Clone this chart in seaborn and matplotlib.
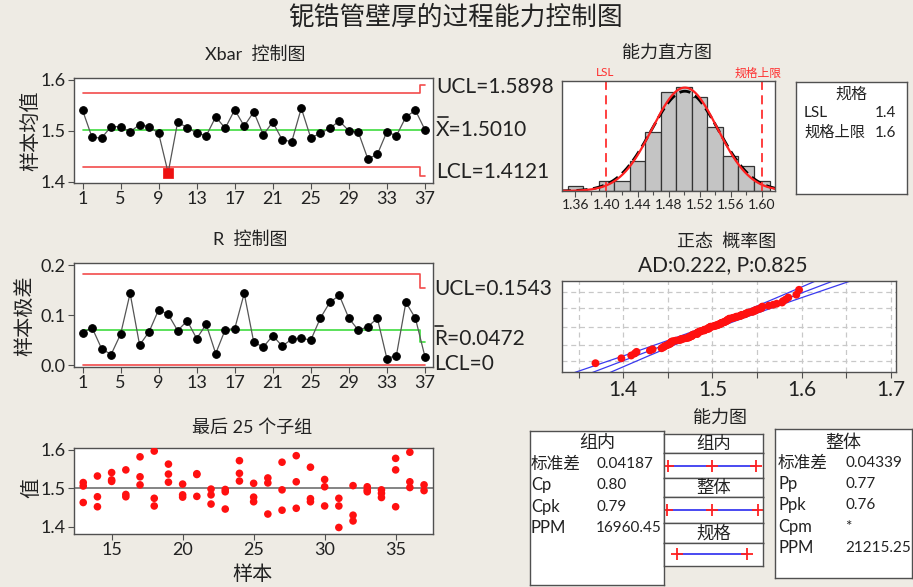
import numpy as np
import pandas as pd
import matplotlib
matplotlib.use("Agg")
import matplotlib.pyplot as plt
from matplotlib.lines import Line2D
from matplotlib.ticker import MultipleLocator
import seaborn as sns
from statistics import NormalDist

# ---------------- data ----------------
subgroups = list(range(1, 38))
xbar_means = [1.540, 1.487, 1.486, 1.508, 1.508, 1.498, 1.512, 1.508, 1.495, 1.418,
              1.517, 1.506, 1.496, 1.490, 1.527, 1.505, 1.541, 1.509, 1.537, 1.492,
              1.517, 1.482, 1.479, 1.544, 1.486, 1.495, 1.505, 1.519, 1.500, 1.497,
              1.445, 1.454, 1.498, 1.490, 1.527, 1.540, 1.502]
ranges = [0.065, 0.075, 0.033, 0.021, 0.062, 0.144, 0.040, 0.067, 0.111, 0.102,
          0.069, 0.089, 0.053, 0.082, 0.023, 0.071, 0.073, 0.144, 0.046, 0.036,
          0.059, 0.038, 0.052, 0.054, 0.050, 0.094, 0.126, 0.140, 0.094, 0.070,
          0.077, 0.094, 0.013, 0.019, 0.126, 0.094, 0.017]
xbar_center = 1.5010
xbar_ucl = [1.5735] * 36 + [1.5898]
xbar_lcl = [1.4285] * 36 + [1.4121]
r_center = [0.0709] * 36 + [0.0472]
r_ucl = [0.1825] * 36 + [0.1543]
r_lcl = [0.0] * 37

# individual measurements per subgroup
measurements = {
    1: [1.579, 1.527, 1.514], 2: [1.525, 1.486, 1.450], 3: [1.501, 1.489, 1.468],
    4: [1.519, 1.507, 1.498], 5: [1.545, 1.496, 1.483], 6: [1.553, 1.532, 1.409],
    7: [1.533, 1.510, 1.493], 8: [1.550, 1.491, 1.483], 9: [1.556, 1.484, 1.445],
    10: [1.471, 1.413, 1.369], 11: [1.555, 1.510, 1.486], 12: [1.545, 1.517, 1.456],
    13: [1.515, 1.506, 1.463], 14: [1.532, 1.478, 1.452], 15: [1.541, 1.522, 1.518],
    16: [1.548, 1.484, 1.478], 17: [1.582, 1.530, 1.509], 18: [1.597, 1.474, 1.454],
    19: [1.563, 1.537, 1.516], 20: [1.511, 1.483, 1.477], 21: [1.538, 1.536, 1.479],
    22: [1.498, 1.483, 1.459], 23: [1.497, 1.491, 1.446], 24: [1.572, 1.539, 1.519],
    25: [1.513, 1.477, 1.465], 26: [1.527, 1.514, 1.433], 27: [1.568, 1.496, 1.443],
    28: [1.585, 1.517, 1.448], 29: [1.555, 1.473, 1.465], 30: [1.523, 1.504, 1.454],
    31: [1.474, 1.454, 1.398], 32: [1.507, 1.430, 1.415], 33: [1.504, 1.496, 1.491],
    34: [1.496, 1.487, 1.476], 35: [1.578, 1.548, 1.452], 36: [1.594, 1.517, 1.502],
    37: [1.509, 1.494],
}

# capability histogram (bin centres and counts)
hist_centers = [1.36, 1.38, 1.40, 1.42, 1.44, 1.46, 1.48, 1.50, 1.52, 1.54, 1.56, 1.58, 1.60]
hist_counts = [1, 0, 2, 2, 6, 12, 20, 21, 19, 13, 7, 5, 2]
bin_width = 0.02

lsl, usl = 1.4, 1.6
process_mean = 1.5010
sigma_within = 0.04187
sigma_overall = 0.04339
cp, cpk, ppm_within = 0.80, 0.79, 16960.45
pp, ppk, ppm_overall = 0.77, 0.76, 21215.25
ad_stat, p_value = 0.222, 0.825

# ---------------- style ----------------
BG = "#EEEBE4"
RED = "#F24B4B"
GREEN = "#3EDC3E"
BLUE = "#3A3AF0"
FRAME = "#505050"

sns.set_theme(style="white")
plt.rcParams["font.family"] = ["Lato", "Noto Sans CJK SC", "DejaVu Sans"]
plt.rcParams["axes.edgecolor"] = FRAME
plt.rcParams["axes.linewidth"] = 1.0

W, H = 913, 587
fig = plt.figure(figsize=(W / 100, H / 100), dpi=100)
fig.patch.set_facecolor(BG)


def box(x0, y0, x1, y1):
    a = fig.add_axes([x0 / W, 1 - y1 / H, (x1 - x0) / W, (y1 - y0) / H])
    a.set_facecolor("white")
    for s in a.spines.values():
        s.set_color(FRAME)
        s.set_linewidth(1.0)
    return a


def ftext(x, y, s, **kw):
    kw.setdefault("va", "center")
    kw.setdefault("color", "#222222")
    fig.text(x / W, 1 - y / H, s, **kw)


def overline(x0, x1, y):
    fig.add_artist(Line2D([x0 / W, x1 / W], [1 - y / H, 1 - y / H],
                          color="#222222", lw=1.2, transform=fig.transFigure))


def ticks(a, size=13):
    a.tick_params(axis="both", which="both", bottom=True, left=True, direction="out",
                  length=4, width=0.8, color=FRAME, labelsize=size, pad=2,
                  labelcolor="#222222")
    a.set_xlabel("")
    a.set_ylabel("")


ftext(456, 17, "铌锆管壁厚的过程能力控制图", fontsize=18.5, ha="center")

# ---------------- Xbar chart ----------------
ax = box(74, 78, 433, 183)
df_x = pd.DataFrame({"sample": subgroups, "mean": xbar_means,
                     "ucl": xbar_ucl, "lcl": xbar_lcl})
sns.lineplot(data=df_x, x="sample", y="ucl", ax=ax, color=RED, lw=1.2, drawstyle="steps-mid")
sns.lineplot(data=df_x, x="sample", y="lcl", ax=ax, color=RED, lw=1.2, drawstyle="steps-mid")
ax.axhline(xbar_center, xmin=(1 - 0.1) / 37.75, xmax=1 - 0.85 / 37.75, color=GREEN, lw=1.2)
sns.lineplot(data=df_x, x="sample", y="mean", ax=ax, color="#555555", lw=0.9,
             marker="o", markersize=5.5, markerfacecolor="black", markeredgecolor="black")
out = df_x[(df_x["mean"] > df_x["ucl"]) | (df_x["mean"] < df_x["lcl"])]
sns.scatterplot(data=out, x="sample", y="mean", ax=ax, marker="s", color="#EE1111",
                s=42, edgecolor="#EE1111", zorder=5)
ax.set_xlim(0.1, 37.85)
ax.set_ylim(1.398, 1.603)
ax.set_xticks(list(range(1, 38, 4)))
ax.set_yticks([1.4, 1.5, 1.6])
ax.set_yticklabels(["1.4", "1.5", "1.6"])
ticks(ax)
ftext(255, 55, "Xbar  控制图", fontsize=13, ha="center")
ftext(30, 131, "样本均值", fontsize=14.5, ha="center", rotation=90)
ftext(436, 87, f"UCL={xbar_ucl[-1]:.4f}", fontsize=15, ha="left")
ftext(436, 130, f"X={xbar_center:.4f}", fontsize=15, ha="left")
overline(438, 448, 117)
ftext(436, 172, f"LCL={xbar_lcl[-1]:.4f}", fontsize=15, ha="left")

# ---------------- R chart ----------------
ax = box(74, 263, 433, 367)
df_r = pd.DataFrame({"sample": subgroups, "range": ranges,
                     "ucl": r_ucl, "center": r_center, "lcl": r_lcl})
sns.lineplot(data=df_r, x="sample", y="ucl", ax=ax, color=RED, lw=1.2, drawstyle="steps-mid")
sns.lineplot(data=df_r, x="sample", y="center", ax=ax, color=GREEN, lw=1.2, drawstyle="steps-mid")
sns.lineplot(data=df_r, x="sample", y="lcl", ax=ax, color=RED, lw=1.2, drawstyle="steps-mid")
sns.lineplot(data=df_r, x="sample", y="range", ax=ax, color="#555555", lw=0.9,
             marker="o", markersize=5.5, markerfacecolor="black", markeredgecolor="black")
ax.set_xlim(0.1, 37.85)
ax.set_ylim(-0.004, 0.205)
ax.set_xticks(list(range(1, 38, 4)))
ax.set_yticks([0.0, 0.1, 0.2])
ax.set_yticklabels(["0.0", "0.1", "0.2"])
ticks(ax)
ftext(250, 240, "R  控制图", fontsize=13, ha="center")
ftext(24, 316, "样本极差", fontsize=14.5, ha="center", rotation=90)
ftext(434, 289, f"UCL={r_ucl[-1]:.4f}", fontsize=15, ha="left")
ftext(434, 339, f"R={r_center[-1]:.4f}", fontsize=15, ha="left")
overline(435, 443, 326)
ftext(434, 364, "LCL=0", fontsize=15, ha="left")

# ---------------- last 25 subgroups ----------------
ax = box(74, 448, 433, 534)
rows = [(k, v) for k in range(13, 38) for v in measurements[k]]
df_last = pd.DataFrame(rows, columns=["sample", "value"])
ax.axhline(xbar_center, color="#707070", lw=1.2)
sns.scatterplot(data=df_last, x="sample", y="value", ax=ax, color="#FF1010",
                s=30, edgecolor="none", zorder=3)
ax.set_xlim(12.35, 37.63)
ax.set_ylim(1.381, 1.605)
ax.set_xticks([15, 20, 25, 30, 35])
ax.set_yticks([1.4, 1.5, 1.6])
ax.set_yticklabels(["1.4", "1.5", "1.6"])
ticks(ax)
ftext(252, 428, "最后 25 个子组", fontsize=13, ha="center")
ftext(31, 488, "值", fontsize=14.5, ha="center", rotation=90)
ftext(252, 574, "样本", fontsize=14.5, ha="center")

# ---------------- capability histogram ----------------
ax = box(562, 81, 775, 191)
edges = [c - bin_width / 2 for c in hist_centers] + [hist_centers[-1] + bin_width / 2]
sns.histplot(x=hist_centers, weights=hist_counts, bins=edges, ax=ax,
             color="#C4C4C4", edgecolor="#333333", linewidth=0.9, alpha=1.0)
xs = np.linspace(1.34, 1.62, 400)
n_total = sum(hist_counts)
scale = n_total * bin_width
fit_within = [scale * NormalDist(process_mean, sigma_within).pdf(v) for v in xs]
fit_overall = [scale * NormalDist(process_mean, sigma_overall).pdf(v) for v in xs]
sns.lineplot(x=xs, y=fit_overall, ax=ax, color="black", lw=2.0, linestyle=(0, (4, 2)))
sns.lineplot(x=xs, y=fit_within, ax=ax, color="#FF2020", lw=1.6)
for spec in (lsl, usl):
    ax.axvline(spec, color="#FF3030", lw=1.3, linestyle=(0, (5, 3)))
ax.set_xlim(1.3428, 1.617)
ax.set_ylim(0, 22.3)
ax.xaxis.set_major_locator(MultipleLocator(0.04))
ax.xaxis.set_minor_locator(MultipleLocator(0.02))
ax.set_xticks(hist_centers[::2])
ax.set_xticklabels([f"{c:.2f}" for c in hist_centers[::2]])
ax.set_yticks([])
ticks(ax, size=10)
ax.tick_params(axis="x", which="minor", length=3)
ftext(667, 53, "能力直方图", fontsize=13, ha="center")
ftext(605, 73, "LSL", fontsize=8.5, ha="center", color="#FF3030")
ftext(758, 73, "规格上限", fontsize=8.5, ha="center", color="#FF3030")

# specification box
sb = box(796, 82, 907, 194)
sb.set_xticks([])
sb.set_yticks([])
ftext(851, 94, "规格", fontsize=11.5, ha="center")
ftext(804, 113, "LSL", fontsize=11, ha="left")
ftext(875, 113, f"{lsl:.1f}", fontsize=11, ha="left")
ftext(804, 133, "规格上限", fontsize=11, ha="left")
ftext(875, 133, f"{usl:.1f}", fontsize=11, ha="left")

# ---------------- normal probability plot ----------------
ax = box(562, 281, 896, 372)
all_values = sorted(v for k in subgroups for v in measurements[k])
n = len(all_values)
nd = NormalDist()
z_pos = [nd.inv_cdf((i - 0.3) / (n + 0.4)) for i in range(1, n + 1)]
zz = np.linspace(-3.3, 3.3, 200)
fit = process_mean + sigma_overall * zz
half = 1.96 * sigma_overall * np.sqrt(1 / n + zz ** 2 / (2 * (n - 1)))
for line in (fit - half, fit, fit + half):
    sns.lineplot(x=line, y=zz, ax=ax, sort=False, color=BLUE, lw=0.9)
sns.scatterplot(x=all_values, y=z_pos, ax=ax, color="#FF1010", s=32, edgecolor="none", zorder=4)
ax.set_xlim(1.3315, 1.7056)
ax.set_ylim(-3.09, 3.09)
ax.xaxis.set_major_locator(MultipleLocator(0.1))
ax.xaxis.set_minor_locator(MultipleLocator(0.05))
ax.set_xticks([1.4, 1.5, 1.6, 1.7])
ax.set_xticklabels(["1.4", "1.5", "1.6", "1.7"])
ax.set_yticks([nd.inv_cdf(p) for p in (0.01, 0.10, 0.50, 0.90, 0.99)])
ax.set_yticklabels([])
ax.grid(True, which="both", axis="both", color="#C8C8C8", lw=0.9, linestyle=(0, (4, 3)))
ax.set_axisbelow(True)
ticks(ax, size=15)
ax.tick_params(axis="y", length=0)
ax.tick_params(axis="x", which="minor", length=4)
ftext(727, 242, "正态  概率图", fontsize=13, ha="center")
ftext(723, 265, f"AD:{ad_stat:.3f}, P:{p_value:.3f}", fontsize=15, ha="center")

# ---------------- capability plot ----------------
ftext(720, 418, "能力图", fontsize=13, ha="center")

wb = box(530, 431, 664, 585)
wb.set_xticks([])
wb.set_yticks([])
ftext(597, 443, "组内", fontsize=13, ha="center")
within_rows = [("标准差", f"{sigma_within:.5f}"), ("Cp", f"{cp:.2f}"),
               ("Cpk", f"{cpk:.2f}"), ("PPM", f"{ppm_within:.2f}")]
for i, (lab, val) in enumerate(within_rows):
    y = 464 + i * 21.3
    ftext(531, y, lab, fontsize=12, ha="left")
    ftext(596, y, val, fontsize=11, ha="left")

ob = box(775, 429, 912, 578)
ob.set_xticks([])
ob.set_yticks([])
ftext(843, 443, "整体", fontsize=13, ha="center")
overall_rows = [("标准差", f"{sigma_overall:.5f}"), ("Pp", f"{pp:.2f}"),
                ("Ppk", f"{ppk:.2f}"), ("Cpm", "*"), ("PPM", f"{ppm_overall:.2f}")]
for i, (lab, val) in enumerate(overall_rows):
    y = 463 + i * 21.2
    ftext(778, y, lab, fontsize=12, ha="left")
    ftext(845, y, val, fontsize=11, ha="left")

interval_within = [process_mean - 3 * sigma_within, process_mean, process_mean + 3 * sigma_within]
interval_overall = [process_mean - 3 * sigma_overall, process_mean, process_mean + 3 * sigma_overall]
interval_spec = [lsl, usl]
row_edges = [434.3, 453.3, 478.3, 496.7, 523.3, 542.7, 566.0]
headers = ["组内", "整体", "规格"]
intervals = [interval_within, interval_overall, interval_spec]
for k in range(3):
    hb = box(664, row_edges[2 * k], 763, row_edges[2 * k + 1])
    hb.set_xticks([])
    hb.set_yticks([])
    ftext(713.5, (row_edges[2 * k] + row_edges[2 * k + 1]) / 2, headers[k],
          fontsize=12.5, ha="center")
    lb = box(664, row_edges[2 * k + 1], 763, row_edges[2 * k + 2])
    pts = intervals[k]
    sns.lineplot(x=pts, y=[0] * len(pts), ax=lb, color=BLUE, lw=1.3, marker="+",
                 markersize=8, markeredgewidth=1.3, markeredgecolor="#FF2020")
    lb.set_xlim(1.363, 1.646)
    lb.set_ylim(-1, 1)
    lb.set_xticks([])
    lb.set_yticks([])
    lb.set_xlabel("")
    lb.set_ylabel("")

fig.savefig("out.png", dpi=100, facecolor=BG)
